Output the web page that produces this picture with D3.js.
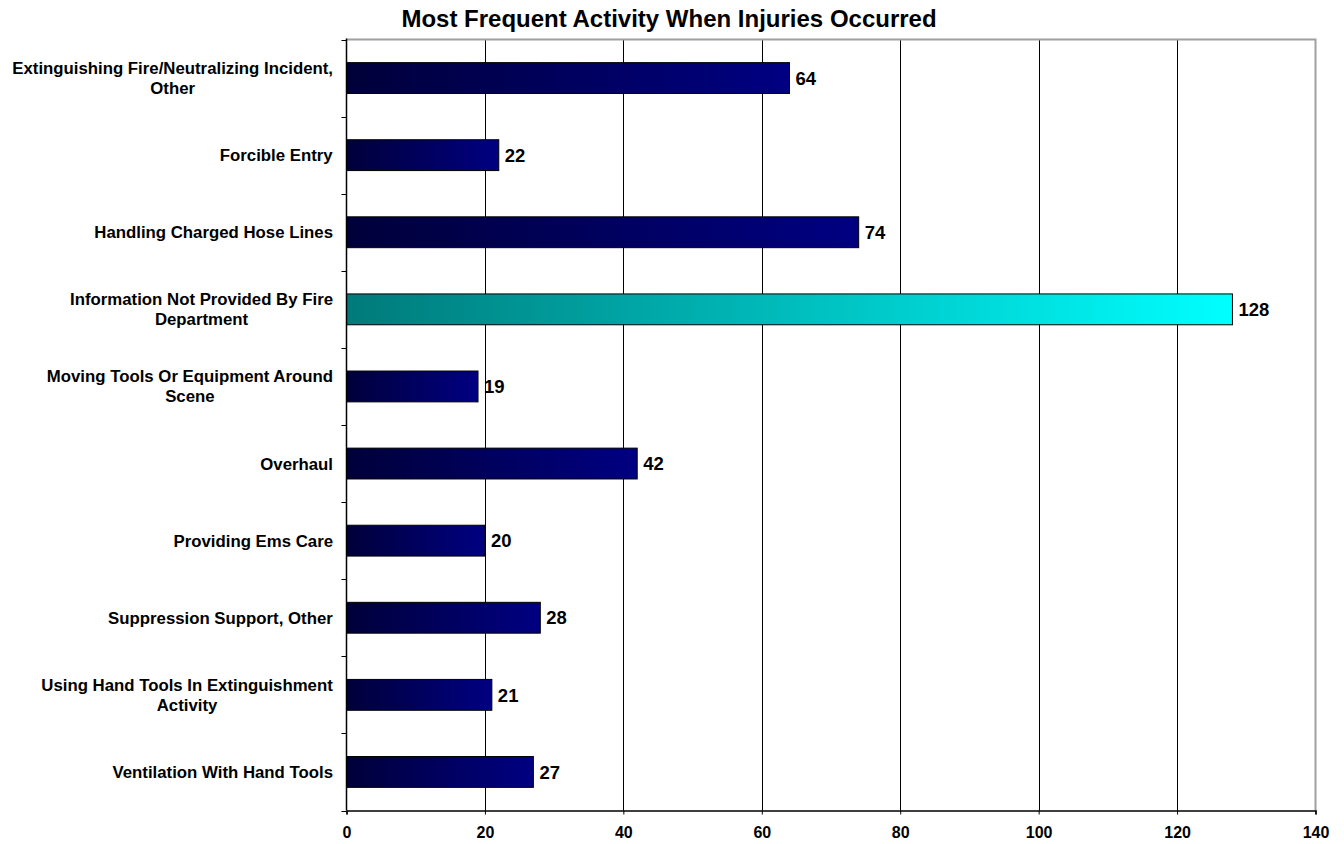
<!DOCTYPE html>
<html><head><meta charset="utf-8">
<script src="https://cdn.jsdelivr.net/npm/d3@7"></script>
<style>body{margin:0;background:#fff}svg{display:block}text{font-family:"Liberation Sans",Arial,sans-serif;font-weight:bold;fill:#000}</style>
</head><body><svg id="c" width="1344" height="844"></svg>
<script>
const title = "Most Frequent Activity When Injuries Occurred";
const categories = [
  "Extinguishing Fire/Neutralizing Incident,\nOther",
  "Forcible Entry",
  "Handling Charged Hose Lines",
  "Information Not Provided By Fire\nDepartment",
  "Moving Tools Or Equipment Around\nScene",
  "Overhaul",
  "Providing Ems Care",
  "Suppression Support, Other",
  "Using Hand Tools In Extinguishment\nActivity",
  "Ventilation With Hand Tools"
];
const values = [64, 22, 74, 128, 19, 42, 20, 28, 21, 27];
const xTicks = [0, 20, 40, 60, 80, 100, 120, 140];
const highlighted = "Information Not Provided By Fire\nDepartment";

const svg = d3.select("#c");
const m = {left: 346.5, right: 1315.5, top: 39.5, bottom: 810.5};
const x = d3.scaleLinear().domain([0, 140]).range([m.left, m.right]);
const y = d3.scaleBand().domain(categories).range([m.top, m.bottom]).paddingInner(0.6).paddingOuter(0.3);
const yb = d3.scaleBand().domain(categories).range([m.top, m.bottom]);

const defs = svg.append("defs");
const gN = defs.append("linearGradient").attr("id", "gNavy");
gN.append("stop").attr("offset", "0%").attr("stop-color", "#00003a");
gN.append("stop").attr("offset", "100%").attr("stop-color", "#000082");
const gT = defs.append("linearGradient").attr("id", "gTeal");
gT.append("stop").attr("offset", "0%").attr("stop-color", "#007a7a");
gT.append("stop").attr("offset", "100%").attr("stop-color", "#00ffff");

// gridlines
svg.append("g").selectAll("line").data(xTicks.filter(t => t > 0 && t < 140)).join("line")
  .attr("x1", d => Math.round(x(d)) + 0.5).attr("x2", d => Math.round(x(d)) + 0.5)
  .attr("y1", m.top).attr("y2", m.bottom).attr("stroke", "#000").attr("stroke-width", 1);

// plot border top/right gray
svg.append("path").attr("d", `M${m.left},${m.top}H${m.right}V${m.bottom}`)
  .attr("fill", "none").attr("stroke", "#a0a0a0").attr("stroke-width", 2);

// bars
svg.append("g").selectAll("rect").data(categories).join("rect")
  .attr("x", x(0)).attr("y", d => y(d))
  .attr("width", (d, i) => x(values[i]) - x(0)).attr("height", y.bandwidth())
  .attr("fill", d => d === highlighted ? "url(#gTeal)" : "url(#gNavy)")
  .attr("stroke", "#000").attr("stroke-width", 1);

// value labels
svg.append("g").selectAll("text").data(categories).join("text")
  .attr("x", (d, i) => x(values[i]) + 6).attr("y", d => y(d) + y.bandwidth() / 2)
  .attr("dy", "0.36em").style("font-size", "18.5px").text((d, i) => values[i]);

// x axis
const xAxis = svg.append("g").attr("transform", `translate(0,${m.bottom})`)
  .call(d3.axisBottom(x).tickValues(xTicks).tickSize(4).tickPadding(12));
xAxis.attr("font-size", null).attr("font-family", null);
xAxis.select(".domain").attr("stroke", "#000").attr("stroke-width", 1.5);
xAxis.selectAll("line").attr("stroke", "#000");
xAxis.selectAll("text").style("font-size", "16px");

// y axis line & ticks at band boundaries
const bounds = categories.map(c => yb(c)).concat([m.bottom]);
svg.append("line").attr("x1", m.left).attr("x2", m.left).attr("y1", m.top - 1).attr("y2", m.bottom)
  .attr("stroke", "#000").attr("stroke-width", 1.5);
svg.append("g").selectAll("line").data(bounds).join("line")
  .attr("x1", m.left - 5).attr("x2", m.left).attr("y1", d => Math.round(d) + 0.5).attr("y2", d => Math.round(d) + 0.5)
  .attr("stroke", "#000");

// category labels
const lab = svg.append("g").selectAll("text").data(categories).join("text")
  .attr("text-anchor", "middle").style("font-size", "16.8px");
lab.each(function(d) {
  const lines = d.split("\n");
  const t = d3.select(this);
  lines.forEach((l, k) => {
    t.append("tspan").attr("x", 0).attr("y", yb(d) + yb.bandwidth() / 2 + (k - (lines.length - 1) / 2) * 20)
      .attr("dy", "0.36em").text(l);
  });
});
lab.each(function() {
  const bb = this.getBBox();
  d3.select(this).attr("transform", `translate(${333 - bb.width / 2},0)`);
});

// title
svg.append("text").attr("x", 669).attr("y", 27).attr("text-anchor", "middle")
  .style("font-size", "24px").text(title);
</script></body></html>
